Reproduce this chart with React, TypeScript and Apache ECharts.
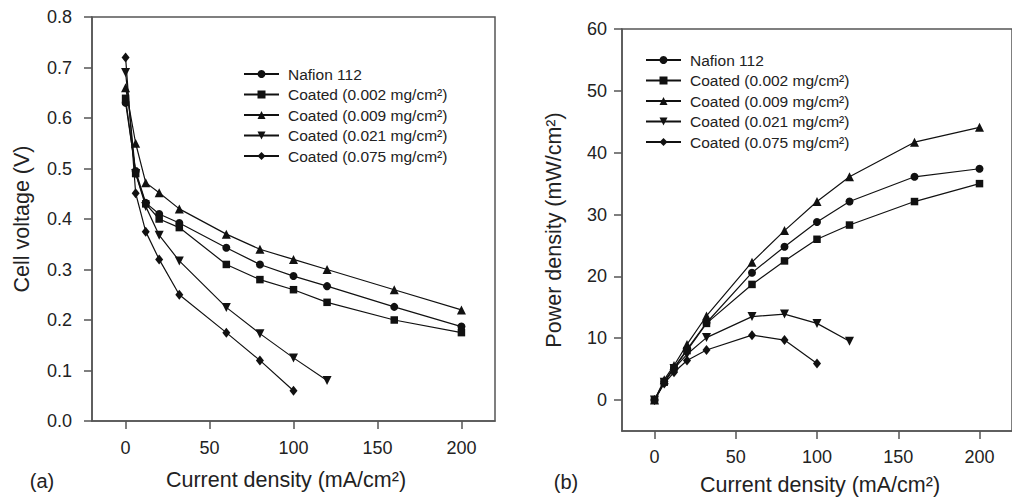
import React, { useEffect, useRef } from "react";
import * as echarts from "echarts";

const seriesNames = [
  "Nafion 112",
  "Coated (0.002 mg/cm²)",
  "Coated (0.009 mg/cm²)",
  "Coated (0.021 mg/cm²)",
  "Coated (0.075 mg/cm²)",
];

const currentDensity = [0, 6, 12, 20, 32, 60, 80, 100, 120, 160, 200];

const voltNafion = [0.63, 0.495, 0.432, 0.41, 0.392, 0.343, 0.31, 0.287, 0.267, 0.226, 0.187];
const volt002 = [0.639, 0.49, 0.43, 0.4, 0.383, 0.31, 0.28, 0.26, 0.235, 0.2, 0.175];
const volt009 = [0.66, 0.55, 0.472, 0.452, 0.42, 0.37, 0.34, 0.32, 0.3, 0.26, 0.22];
const volt021 = [0.69, 0.49, 0.425, 0.368, 0.317, 0.225, 0.173, 0.125, 0.08];
const volt075 = [0.72, 0.451, 0.375, 0.32, 0.25, 0.175, 0.12, 0.06];

const powerNafion = [0, 3.0, 5.2, 8.2, 12.5, 20.6, 24.8, 28.8, 32.1, 36.1, 37.4];
const power002 = [0, 2.9, 5.2, 8.0, 12.4, 18.7, 22.5, 26.0, 28.3, 32.1, 35.0];
const power009 = [0, 3.3, 5.6, 9.0, 13.6, 22.3, 27.4, 32.1, 36.1, 41.7, 44.1];
const power021 = [0, 2.9, 5.1, 7.4, 10.1, 13.5, 13.9, 12.4, 9.5];
const power075 = [0, 2.7, 4.5, 6.4, 8.1, 10.5, 9.7, 5.9];

const xTicks = [0, 50, 100, 150, 200];
const powerTicks = [0, 10, 20, 30, 40, 50, 60];

const symbols: string[] = [
  "circle",
  "rect",
  "triangle",
  "path://M0,0 L10,0 L5,9 Z",
  "diamond",
];
const symbolSizes: any[] = [8, 7.5, 9, 9, [8, 10]];

const FONT = "Liberation Sans, Arial, Helvetica, sans-serif";
const INK = "#111";
const AXIS = "#555";

function pairs(ys: number[]) {
  return ys.map((y, i) => [currentDensity[i], y]);
}

export default function App() {
  const ref = useRef<HTMLDivElement>(null);

  useEffect(() => {
    if (!ref.current) return;
    const chart = echarts.init(ref.current, undefined, { renderer: "svg" });

    const volts = [voltNafion, volt002, volt009, volt021, volt075];
    const powers = [powerNafion, power002, power009, power021, power075];

    const mkSeries = (arr: number[][], idx: number) =>
      arr.map((ys, i) => ({
        type: "line",
        name: seriesNames[i],
        xAxisIndex: idx,
        yAxisIndex: idx,
        data: pairs(ys),
        symbol: symbols[i],
        symbolSize: symbolSizes[i],
        showSymbol: true,
        lineStyle: { color: INK, width: 1.2 },
        itemStyle: { color: INK },
        emphasis: { disabled: true },
        z: 3,
      }));

    const axisCommon = {
      axisLine: { show: true, onZero: false, lineStyle: { color: AXIS, width: 1.5 } },
      axisTick: { show: true, inside: false, length: 8, lineStyle: { color: AXIS, width: 1.5 } },
      splitLine: { show: false },
    };

    const labelStyle = { fontFamily: FONT, fontSize: 18, color: "#222" };

    const legendCommon = {
      orient: "vertical",
      selectedMode: false,
      itemWidth: 35,
      itemHeight: 10,
      itemGap: 2.5,
      data: seriesNames,
      textStyle: {
        fontFamily: FONT,
        fontSize: 15.5,
        color: "#222",
        lineHeight: 18,
        padding: [0, 0, 0, 4],
      },
    };

    const titleStyle = { fontFamily: FONT, fontSize: 21.5, fill: "#222" };

    chart.setOption({
      animation: false,
      backgroundColor: "#fff",
      grid: [
        { left: 92, top: 17, width: 403, height: 404, show: true, borderColor: AXIS, borderWidth: 1.5 },
        { left: 622, top: 29, width: 400, height: 402, show: true, borderColor: AXIS, borderWidth: 1.5 },
      ],
      xAxis: [
        {
          type: "value",
          gridIndex: 0,
          min: -20,
          max: 220,
          ...axisCommon,
          axisTick: { ...axisCommon.axisTick, customValues: xTicks },
          axisLabel: { ...labelStyle, margin: 18, customValues: xTicks },
        },
        {
          type: "value",
          gridIndex: 1,
          min: -20,
          max: 220,
          ...axisCommon,
          axisTick: { ...axisCommon.axisTick, customValues: xTicks },
          axisLabel: { ...labelStyle, margin: 17, customValues: xTicks },
        },
      ],
      yAxis: [
        {
          type: "value",
          gridIndex: 0,
          min: 0,
          max: 0.8,
          interval: 0.1,
          ...axisCommon,
          axisLabel: {
            ...labelStyle,
            margin: 20,
            formatter: (v: number) => v.toFixed(1),
          },
        },
        {
          type: "value",
          gridIndex: 1,
          min: -5,
          max: 60,
          ...axisCommon,
          axisTick: { ...axisCommon.axisTick, customValues: powerTicks },
          axisLabel: { ...labelStyle, margin: 15, customValues: powerTicks },
        },
      ],
      legend: [
        { ...legendCommon, left: 238, top: 60 },
        { ...legendCommon, left: 640, top: 46 },
      ],
      graphic: [
        {
          type: "text",
          x: 22,
          y: 219,
          rotation: Math.PI / 2,
          style: { ...titleStyle, text: "Cell voltage (V)", align: "center", verticalAlign: "middle" },
        },
        {
          type: "text",
          x: 286,
          y: 480,
          style: { ...titleStyle, text: "Current density (mA/cm²)", align: "center", verticalAlign: "middle" },
        },
        {
          type: "text",
          x: 42,
          y: 481,
          style: { ...titleStyle, fontSize: 20, text: "(a)", align: "center", verticalAlign: "middle" },
        },
        {
          type: "text",
          x: 554,
          y: 230,
          rotation: Math.PI / 2,
          style: { ...titleStyle, text: "Power density (mW/cm²)", align: "center", verticalAlign: "middle" },
        },
        {
          type: "text",
          x: 820,
          y: 485,
          style: { ...titleStyle, text: "Current density (mA/cm²)", align: "center", verticalAlign: "middle" },
        },
        {
          type: "text",
          x: 566,
          y: 482,
          style: { ...titleStyle, fontSize: 20, text: "(b)", align: "center", verticalAlign: "middle" },
        },
      ],
      series: [...mkSeries(volts, 0), ...mkSeries(powers, 1)],
    });

    return () => chart.dispose();
  }, []);

  return (
    <div
      ref={ref}
      style={{ position: "fixed", left: 0, top: 0, width: 1012, height: 498, background: "#fff" }}
    />
  );
}
